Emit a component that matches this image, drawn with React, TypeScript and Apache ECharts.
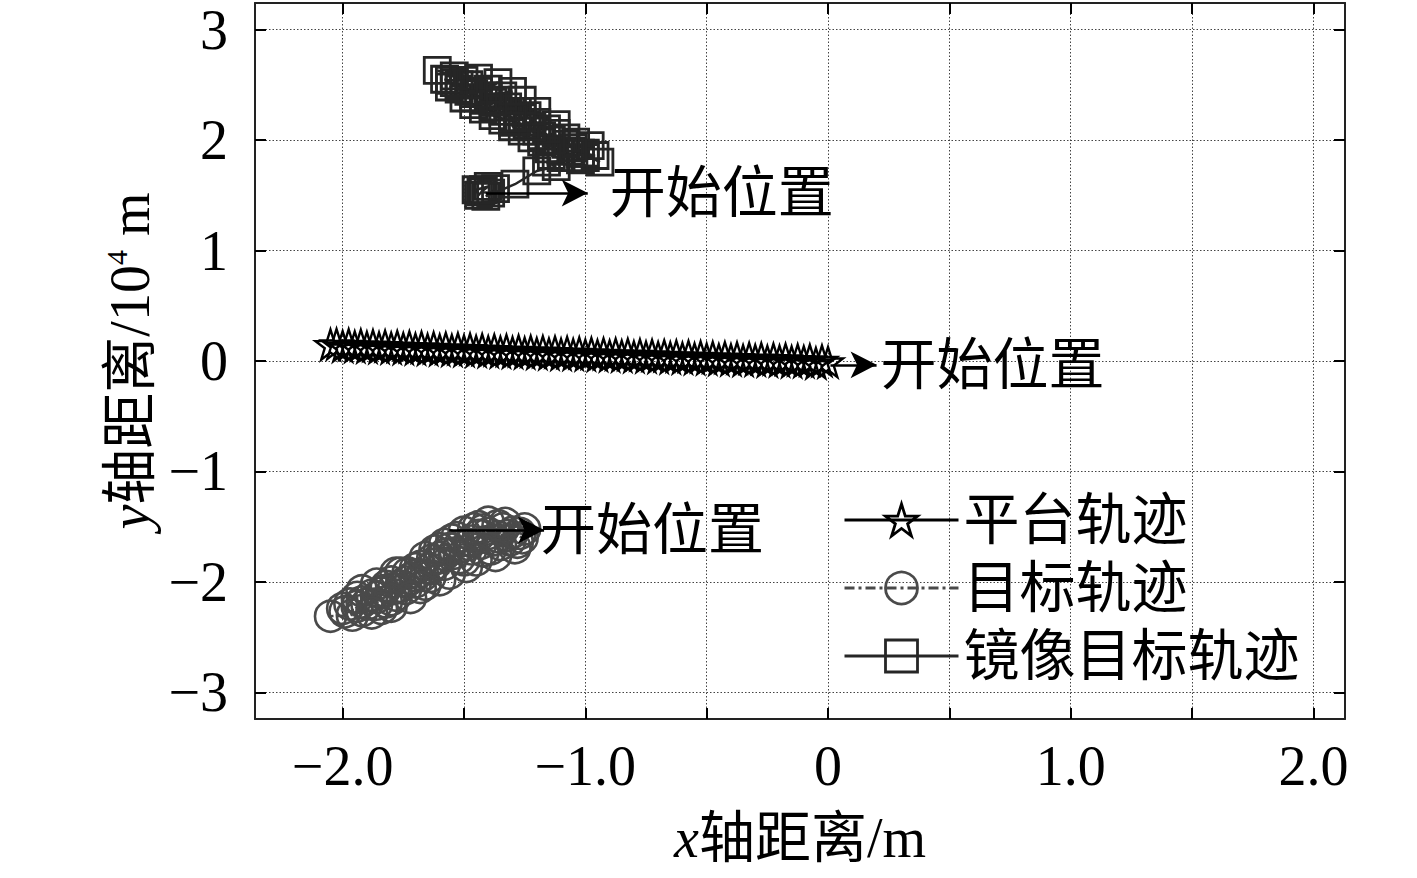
import React, { useEffect, useRef } from 'react';
import * as echarts from 'echarts';

const seriesNames = ['平台轨迹', '目标轨迹', '镜像目标轨迹'];
const xTicks = [-2, -1.5, -1, -0.5, 0, 0.5, 1, 1.5, 2];
const xLabels = [-2, -1, 0, 1, 2];
const yTicks = [-3, -2, -1, 0, 1, 2, 3];
const xRange = [-2.361, 2.13];
const yRange = [-3.24, 3.24];
const startLabel = '开始位置';

const platformTrack = [
  [0.0, -0.01], [-0.025, 0.004], [-0.05, -0.018], [-0.075, 0.01], [-0.1, -0.004], [-0.125, 0.012],
  [-0.15, -0.006], [-0.175, 0.018], [-0.2, 0.002], [-0.225, 0.02], [-0.25, 0.0], [-0.275, 0.024],
  [-0.3, 0.008], [-0.325, 0.026], [-0.35, 0.006], [-0.375, 0.03], [-0.4, 0.012], [-0.425, 0.034],
  [-0.45, 0.014], [-0.475, 0.036], [-0.5, 0.02], [-0.525, 0.04], [-0.55, 0.022], [-0.575, 0.044],
  [-0.6, 0.026], [-0.625, 0.046], [-0.65, 0.03], [-0.675, 0.05], [-0.7, 0.034], [-0.725, 0.054],
  [-0.75, 0.038], [-0.775, 0.058], [-0.8, 0.04], [-0.825, 0.062], [-0.85, 0.046], [-0.875, 0.064],
  [-0.9, 0.048], [-0.925, 0.068], [-0.95, 0.052], [-0.975, 0.072], [-1.0, 0.056], [-1.025, 0.076],
  [-1.05, 0.06], [-1.075, 0.08], [-1.1, 0.062], [-1.125, 0.084], [-1.15, 0.066], [-1.175, 0.088],
  [-1.2, 0.07], [-1.225, 0.09], [-1.25, 0.074], [-1.275, 0.094], [-1.3, 0.078], [-1.325, 0.098],
  [-1.35, 0.082], [-1.375, 0.102], [-1.4, 0.086], [-1.425, 0.106], [-1.45, 0.09], [-1.475, 0.11],
  [-1.5, 0.094], [-1.525, 0.114], [-1.55, 0.098], [-1.575, 0.118], [-1.6, 0.102], [-1.625, 0.122],
  [-1.65, 0.106], [-1.675, 0.126], [-1.7, 0.11], [-1.725, 0.13], [-1.75, 0.114], [-1.775, 0.134],
  [-1.8, 0.118], [-1.825, 0.138], [-1.85, 0.122], [-1.875, 0.142], [-1.9, 0.126], [-1.925, 0.146],
  [-1.95, 0.13], [-1.975, 0.15], [-2.0, 0.134], [-2.025, 0.154], [-2.05, 0.148],
];

const targetTrack = [
  [-1.42, -1.53], [-1.36, -1.49], [-1.44, -1.5], [-1.3, -1.55], [-1.34, -1.52], [-1.26, -1.6],
  [-1.27, -1.56], [-1.33, -1.47], [-1.32, -1.58], [-1.4, -1.56], [-1.38, -1.62], [-1.25, -1.52],
  [-1.31, -1.62], [-1.28, -1.64], [-1.36, -1.59], [-1.44, -1.58], [-1.46, -1.52], [-1.35, -1.66],
  [-1.43, -1.65], [-1.29, -1.69], [-1.4, -1.46], [-1.39, -1.7], [-1.47, -1.63], [-1.53, -1.6],
  [-1.42, -1.72], [-1.47, -1.7], [-1.5, -1.55], [-1.48, -1.66], [-1.37, -1.76], [-1.52, -1.68],
  [-1.58, -1.66], [-1.45, -1.8], [-1.56, -1.7], [-1.5, -1.8], [-1.54, -1.74], [-1.52, -1.78],
  [-1.55, -1.62], [-1.58, -1.75], [-1.49, -1.86], [-1.6, -1.78], [-1.6, -1.7], [-1.62, -1.72],
  [-1.63, -1.8], [-1.58, -1.84], [-1.62, -1.84], [-1.56, -1.92], [-1.68, -1.86], [-1.66, -1.78],
  [-1.64, -1.88], [-1.67, -1.94], [-1.64, -1.95], [-1.7, -1.88], [-1.73, -1.92], [-1.6, -1.98],
  [-1.66, -2.02], [-1.7, -1.94], [-1.72, -1.97], [-1.7, -2.0], [-1.74, -2.0], [-1.78, -1.92],
  [-1.68, -2.05], [-1.76, -1.92], [-1.74, -2.06], [-1.76, -2.04], [-1.79, -2.06], [-1.8, -2.0],
  [-1.78, -2.12], [-1.82, -2.04], [-1.83, -2.08], [-1.72, -2.14], [-1.84, -2.1], [-1.86, -2.02],
  [-1.8, -2.16], [-1.82, -2.18], [-1.8, -2.22], [-1.86, -2.14], [-1.86, -2.2], [-1.88, -2.12],
  [-1.92, -2.08], [-1.9, -2.2], [-1.84, -2.24], [-1.92, -2.18], [-1.94, -2.22], [-1.94, -2.14],
  [-1.92, -2.26], [-1.97, -2.2], [-1.99, -2.27], [-1.88, -2.28], [-2.0, -2.24], [-1.96, -2.3],
  [-2.05, -2.31],
];

const mirrorTrack = [
  [-1.42, 1.55], [-1.44, 1.5], [-1.45, 1.55], [-1.4, 1.58], [-1.43, 1.53], [-1.39, 1.52],
  [-1.37, 1.56], [-1.41, 1.49], [-1.29, 1.6], [-1.2, 1.72], [-1.12, 1.76], [-1.16, 1.8],
  [-1.02, 1.82], [-1.0, 1.84], [-0.96, 1.86], [-1.06, 1.9], [-1.02, 1.88], [-0.98, 1.95],
  [-1.1, 1.84], [-1.14, 1.86], [-1.04, 1.98], [-1.1, 1.9], [-1.15, 1.92], [-1.0, 1.88],
  [-0.94, 1.8], [-1.08, 1.96], [-1.08, 2.02], [-1.18, 1.98], [-1.12, 2.06], [-1.18, 2.04],
  [-1.22, 2.02], [-1.05, 1.93], [-1.2, 2.08], [-1.12, 2.14], [-1.16, 2.1], [-1.26, 2.08],
  [-1.24, 2.14], [-1.2, 2.16], [-1.3, 2.12], [-1.3, 2.16], [-1.14, 2.0], [-1.24, 2.22],
  [-1.28, 2.18], [-1.34, 2.18], [-1.26, 2.2], [-1.2, 2.26], [-1.28, 2.26], [-1.34, 2.26],
  [-1.38, 2.22], [-1.22, 2.12], [-1.32, 2.3], [-1.38, 2.3], [-1.42, 2.28], [-1.26, 2.36],
  [-1.36, 2.36], [-1.42, 2.36], [-1.46, 2.32], [-1.3, 2.2], [-1.4, 2.4], [-1.34, 2.4],
  [-1.3, 2.44], [-1.46, 2.38], [-1.5, 2.38], [-1.44, 2.44], [-1.48, 2.44], [-1.36, 2.52],
  [-1.4, 2.46], [-1.52, 2.46], [-1.38, 2.34], [-1.48, 2.5], [-1.52, 2.5], [-1.56, 2.48],
  [-1.44, 2.56], [-1.5, 2.54], [-1.56, 2.54], [-1.58, 2.55], [-1.46, 2.42], [-1.54, 2.52],
  [-1.54, 2.58], [-1.61, 2.63],
];

const startArrows = [
  { from: [-1.41, 1.52], to: [-0.99, 1.52], gap: 22 },
  { from: [0.01, -0.035], to: [0.2, -0.035], gap: 4 },
  { from: [-1.56, -1.53], to: [-1.17, -1.53], gap: -4 },
];

const serif = '"Liberation Serif", "Times New Roman", "Noto Sans CJK SC", serif';
const starPath =
  'path://M50,0 L61.23,34.55 L97.55,34.55 L68.16,55.9 L79.39,90.45 L50,69.1 L20.61,90.45 L31.84,55.9 L2.45,34.55 L38.77,34.55 Z';

const fmtX = (v: number) => (Math.abs(v) < 1e-9 ? '0' : (v < 0 ? '\u2212' : '') + Math.abs(v).toFixed(1));
const fmtY = (v: number) => (Math.abs(v) < 1e-9 ? '0' : (v < 0 ? '\u2212' : '') + String(Math.abs(v)));

export default function App() {
  const ref = useRef<HTMLDivElement>(null);
  useEffect(() => {
    if (!ref.current) return;
    const chart = echarts.init(ref.current, undefined, { renderer: 'svg' });
    const axisLine = { show: true, onZero: false, lineStyle: { color: '#222', width: 2 } };
    const tickStyle = { color: '#000', width: 2 };
    const splitLine = { show: true, lineStyle: { type: [1.5, 2], color: '#444', width: 1 } };
    const option: any = {
      animation: false,
      backgroundColor: '#fff',
      grid: { left: 255, right: 72, top: 3, bottom: 159, containLabel: false, outerBoundsMode: 'none' },
      legend: {
        data: seriesNames,
        orient: 'vertical',
        left: 838,
        top: 487,
        itemWidth: 114,
        itemHeight: 40,
        itemGap: 12,
        selectedMode: false,
        lineStyle: { width: 3 },
        itemStyle: { borderWidth: 2.8 },
        textStyle: { fontSize: 56, color: '#000', fontFamily: serif },
      },
      xAxis: [
        {
          type: 'value',
          position: 'bottom',
          min: xRange[0],
          max: xRange[1],
          axisLine,
          axisTick: { show: true, inside: true, length: 11, lineStyle: tickStyle, customValues: xTicks },
          axisLabel: { customValues: xLabels, formatter: fmtX, fontSize: 56, margin: 19, color: '#000', fontFamily: serif },
          splitLine,
          name: '{i|x}轴距离/m',
          nameLocation: 'middle',
          nameGap: 91,
          nameTextStyle: {
            fontSize: 56,
            color: '#000',
            fontFamily: serif,
            rich: { i: { fontSize: 56, fontStyle: 'italic', fontFamily: serif, color: '#000' } },
          },
        },
        {
          type: 'value',
          position: 'top',
          min: xRange[0],
          max: xRange[1],
          axisLine,
          axisTick: { show: true, inside: true, length: 11, lineStyle: tickStyle, customValues: xTicks },
          axisLabel: { show: false },
          splitLine: { show: false },
        },
      ],
      yAxis: [
        {
          type: 'value',
          position: 'left',
          min: yRange[0],
          max: yRange[1],
          axisLine,
          axisTick: { show: true, inside: true, length: 11, lineStyle: tickStyle, customValues: yTicks },
          axisLabel: { customValues: yTicks, formatter: fmtY, fontSize: 56, margin: 27, color: '#000', fontFamily: serif },
          splitLine,
          name: '{i|y}轴距离/10{s|4} m',
          nameLocation: 'middle',
          nameGap: 97,
          nameTextStyle: {
            fontSize: 56,
            color: '#000',
            fontFamily: serif,
            rich: {
              i: { fontSize: 56, fontStyle: 'italic', fontFamily: serif, color: '#000' },
              s: { fontSize: 30, fontFamily: serif, color: '#000', verticalAlign: 'top', lineHeight: 56 },
            },
          },
        },
        {
          type: 'value',
          position: 'right',
          min: yRange[0],
          max: yRange[1],
          axisLine,
          axisTick: { show: true, inside: true, length: 11, lineStyle: tickStyle, customValues: yTicks },
          axisLabel: { show: false },
          splitLine: { show: false },
        },
      ],
      series: [
        {
          name: seriesNames[0],
          type: 'line',
          data: platformTrack,
          symbol: starPath,
          symbolSize: 30,
          showAllSymbol: true,
          lineStyle: { color: '#000', width: 3 },
          itemStyle: { color: 'transparent', borderColor: '#000', borderWidth: 2.4 },
          emphasis: { disabled: true },
          z: 3,
        },
        {
          name: seriesNames[1],
          type: 'line',
          data: targetTrack,
          symbol: 'circle',
          symbolSize: 31,
          showAllSymbol: true,
          lineStyle: { color: '#4a4a4a', width: 2.5, type: [10, 4, 3, 4] },
          itemStyle: { color: 'transparent', borderColor: '#4a4a4a', borderWidth: 2.6 },
          emphasis: { disabled: true },
          z: 3,
        },
        {
          name: seriesNames[2],
          type: 'line',
          data: mirrorTrack,
          symbol: 'rect',
          symbolSize: 26,
          showAllSymbol: true,
          lineStyle: { color: '#262626', width: 2.5 },
          itemStyle: { color: 'transparent', borderColor: '#262626', borderWidth: 2.8 },
          emphasis: { disabled: true },
          z: 3,
        },
        {
          name: 'arrows',
          type: 'line',
          data: [],
          z: 5,
          markLine: {
            silent: true,
            animation: false,
            symbol: ['none', 'arrow'],
            symbolSize: [20, 26],
            lineStyle: { color: '#000', width: 2.5, type: 'solid' },
            label: {
              show: true,
              position: 'end',
              formatter: startLabel,
              fontSize: 56,
              color: '#000',
              fontFamily: serif,
            },
            emphasis: { disabled: true },
            data: startArrows.map((a) => [
              { coord: a.from, label: { distance: a.gap } },
              { coord: a.to },
            ]),
          },
        },
      ],
    };
    chart.setOption(option);
    return () => chart.dispose();
  }, []);
  return (
    <div
      ref={ref}
      style={{ position: 'fixed', left: 0, top: 0, width: 1417, height: 878, background: '#fff' }}
    />
  );
}
